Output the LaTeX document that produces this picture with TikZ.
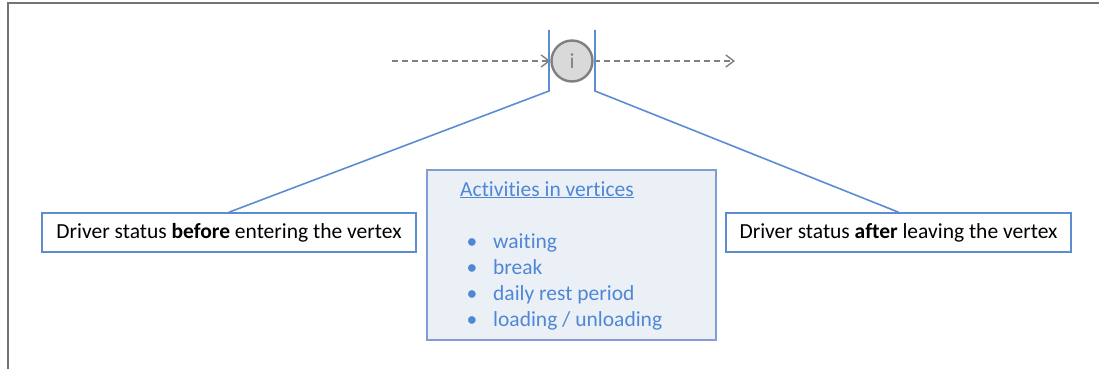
\documentclass[tikz,border=0pt]{standalone}
\usepackage{fontspec}
\setmainfont{Carlito}[Ligatures=NoCommon]
\usepackage{tikz}
\usetikzlibrary{arrows.meta}
\definecolor{framegray}{rgb}{0.45,0.45,0.45}
\definecolor{vxgray}{rgb}{0.5,0.5,0.5}
\definecolor{vxfill}{rgb}{0.85,0.85,0.85}
\definecolor{linkblue}{rgb}{0.36,0.55,0.82}
\definecolor{listblue}{rgb}{0.31,0.53,0.84}
\definecolor{listfill}{rgb}{0.92,0.94,0.97}
\definecolor{listedge}{rgb}{0.50,0.62,0.83}

\begin{document}
\begin{tikzpicture}[x=1pt,y=-1pt,
  every node/.style={font=\fontsize{21.5}{26}\selectfont},
  statusbox/.style={draw=linkblue,line width=1.6pt,fill=white,minimum height=39pt,inner sep=0pt},
  flow/.style={draw=vxgray,line width=1.4pt,dash pattern=on 6pt off 4pt,-{Straight Barb[length=8pt,width=12pt]}}]
  \useasboundingbox (0,0) rectangle (1099,369);

  % frame
  \draw[framegray,line width=2pt] (1099,3) -- (8,3) -- (8,369);

  % the vertex
  \node[circle,draw=vxgray,fill=vxfill,line width=2.4pt,minimum size=41pt,inner sep=0pt,text=vxgray] (vx) at (572,61) {i};
  \coordinate (inflow) at (392,61);
  \coordinate (outflow) at (735,61);
  \draw[flow] (inflow) -- (vx.west);
  \draw[flow] (vx.east) -- (outflow);

  % status boxes
  \node[statusbox,minimum width=374pt] (before) at (229,232.5) {Driver status \textbf{before} entering the vertex};
  \node[statusbox,minimum width=345pt] (after) at (898.5,232.5) {Driver status \textbf{after} leaving the vertex};

  \coordinate (lt) at (549,30);
  \coordinate (lb) at (549,91);
  \coordinate (rt) at (595,30);
  \coordinate (rb) at (595,91);
  \draw[linkblue,line width=1.6pt] (lt) -- (lb) -- (before.north);
  \draw[linkblue,line width=1.6pt] (rt) -- (rb) -- (after.north);

  % activities
  \node[draw=listedge,fill=listfill,line width=1.6pt,minimum width=289pt,minimum height=170pt] (acts) at (571.5,255) {};
  \node[anchor=base west,text=listblue,inner sep=0pt] (title) at (460,196) {\underline{Activities in vertices}};
  \foreach \y/\txt [count=\i] in {248/waiting,274/break,300/{daily rest period},326/{loading / unloading}}{
    \node[anchor=base,text=listblue,inner sep=0pt] (dot\i) at (472,\y) {\textbullet};
    \node[anchor=base west,text=listblue,inner sep=0pt] (item\i) at (493,\y) {\txt};
  }
\end{tikzpicture}
\end{document}
